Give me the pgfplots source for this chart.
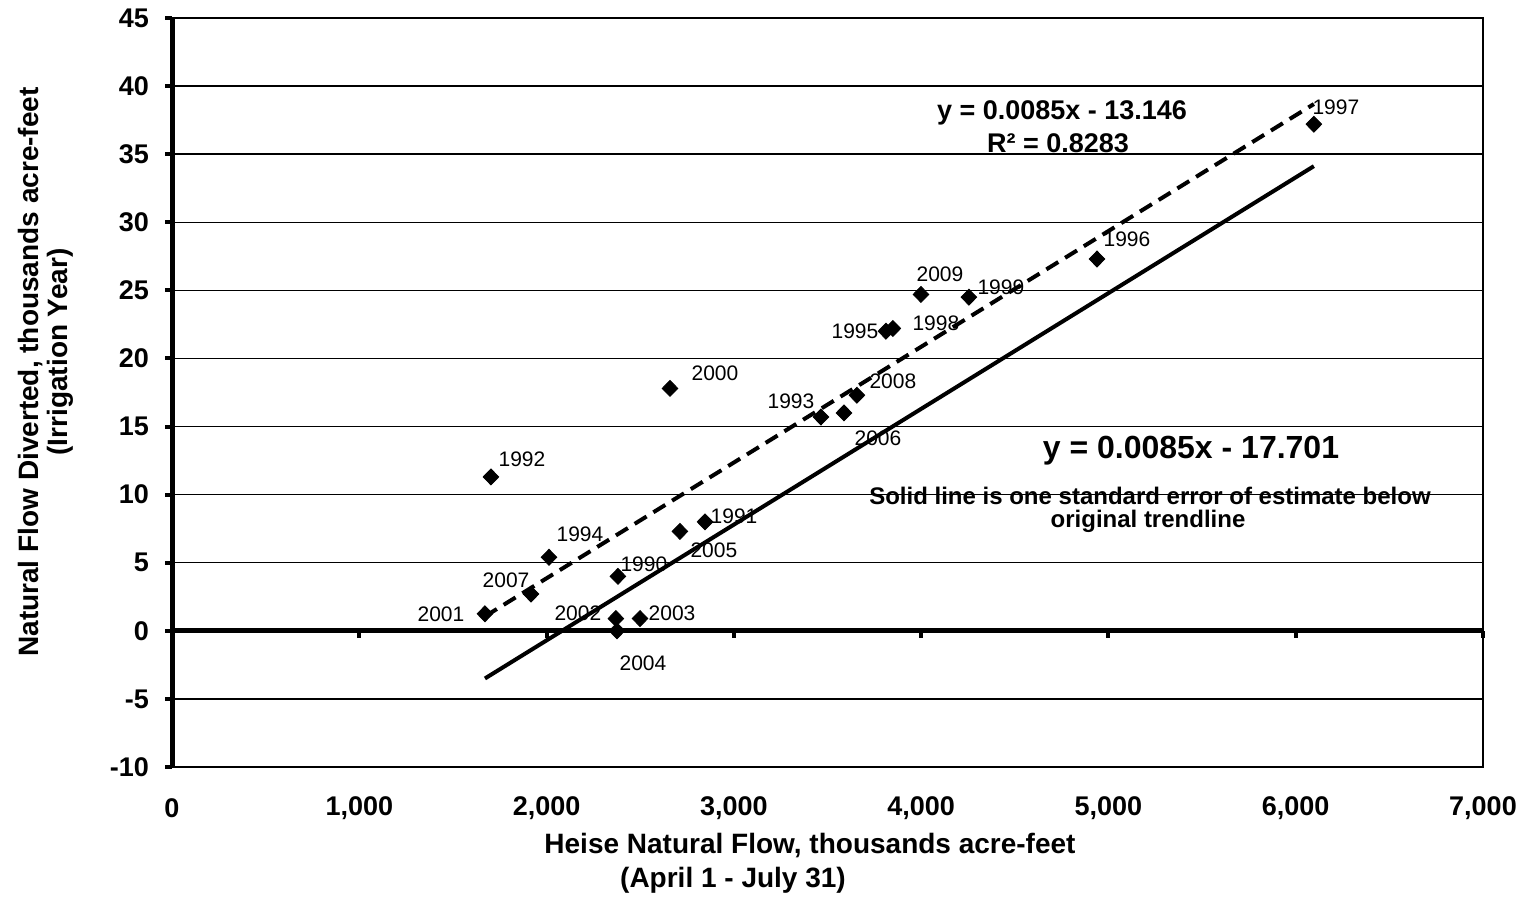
\documentclass[border=0pt]{standalone}
\usepackage{pgfplots}
\usepackage{pgfplotstable}
\pgfplotsset{compat=1.18}
\usepackage{fontspec}
\setmainfont{Liberation Sans}

% year, Heise flow (kaf), diverted (kaf), label offsets (pt)
\pgfplotstableread{
x     y     yr   dx     dy
1671  1.25  2001 -22    0
1703  11.3  1992 15.5   9
2013  5.4   1994 15.5   11.5
1917  2.7   2007 -12.5  7
2381  4.0   1990 13     6
2370  0.9   2002 -19    2.5
2376  0.0   2004 13     -16
2499  0.9   2003 16     2.5
2659  17.8  2000 22.5   7.5
2712  7.3   2005 17     -9.5
2846  8.0   1991 14.5   3
3465  15.7  1993 -15    8
3588  16.0  2006 17     -12.5
3657  17.3  2008 18     7
3812  22.0  1995 -15.5  0
3849  22.2  1998 21.5   2.5
3999  24.7  2009 9.5    10
4255  24.5  1999 16     5
4939  27.3  1996 15     10
6097  37.2  1997 11     8.5
}\flowdata

\begin{document}
\begin{tikzpicture}
\useasboundingbox (-86pt,-65.5pt) rectangle (676.5pt,383.5pt);

% frame, grid and tick labels
\begin{axis}[
    at={(0,0)}, anchor=south west,
    scale only axis, width=655.5pt, height=374.5pt,
    xmin=0, xmax=7000, ymin=-10, ymax=45,
    xtick={0,1000,...,7000}, ytick={-10,-5,...,45},
    axis line style={line width=0.7pt, black},
    ymajorgrids, grid style={line width=0.7pt, black},
    tick style={draw=none},
    /pgf/number format/assume math mode=true,
    /pgf/number format/1000 sep={,},
    ticklabel style={font=\fontsize{13.5}{15}\selectfont\bfseries},
    xticklabel style={anchor=center, yshift=-20.5pt},
    yticklabel style={anchor=east, xshift=-8pt},
    clip=false,
]
\addplot[only marks, mark=diamond*, mark size=4pt, black,
    mark options={xscale=1.3},
    nodes near coords, point meta=explicit symbolic,
    visualization depends on={\thisrow{dx} \as \dx},
    visualization depends on={\thisrow{dy} \as \dy},
    every node near coord/.append style={anchor=center, xshift=\dx pt, yshift=\dy pt,
        font=\fontsize{10.5}{12}\selectfont, text=black}]
    table[x=x, y=y, meta=yr] {\flowdata};
% original trendline
\addplot[black, line width=2pt, dash pattern=on 7pt off 4pt] coordinates {(1671,1.06) (6097,38.68)};
% one standard error below
\addplot[black, line width=2pt] coordinates {(1671,-3.50) (6097,34.12)};
\end{axis}

% thick spines: left axis and zero line with tick marks
\begin{axis}[
    at={(0,0)}, anchor=south west,
    scale only axis, width=655.5pt, height=374.5pt,
    xmin=0, xmax=7000, ymin=-10, ymax=45,
    axis x line=middle, axis y line=left,
    axis line style={-, line width=2.5pt, black},
    xtick={1000,2000,...,7000}, ytick={-10,-5,...,45},
    xticklabels={}, yticklabels={},
    tick align=outside, major tick length=3.5pt,
    tick style={line width=2pt, black},
]
\end{axis}

\node[font=\fontsize{14}{16}\selectfont\bfseries] at (319pt,-39.5pt) {Heise Natural Flow, thousands acre-feet};
\node[font=\fontsize{14}{16}\selectfont\bfseries] at (280.5pt,-56.5pt) {(April 1 - July 31)};
\node[rotate=90, font=\fontsize{14}{16}\selectfont\bfseries] at (-70.5pt,197.5pt) {Natural Flow Diverted, thousands acre-feet};
\node[rotate=90, font=\fontsize{14}{16}\selectfont\bfseries] at (-56pt,207.5pt) {(Irrigation Year)};

\node[font=\fontsize{13.5}{15}\selectfont\bfseries] at (445pt,327pt) {y = 0.0085x - 13.146};
\node[font=\fontsize{13.5}{15}\selectfont\bfseries] at (443pt,312pt) {R² = 0.8283};
\node[font=\fontsize{16}{18}\selectfont\bfseries] at (509.5pt,158pt) {y = 0.0085x - 17.701};
\node[font=\fontsize{12}{14}\selectfont\bfseries] at (489pt,135.5pt) {Solid line is one standard error of estimate below};
\node[font=\fontsize{12}{14}\selectfont\bfseries] at (488pt,123pt) {original trendline};
\end{tikzpicture}
\end{document}
